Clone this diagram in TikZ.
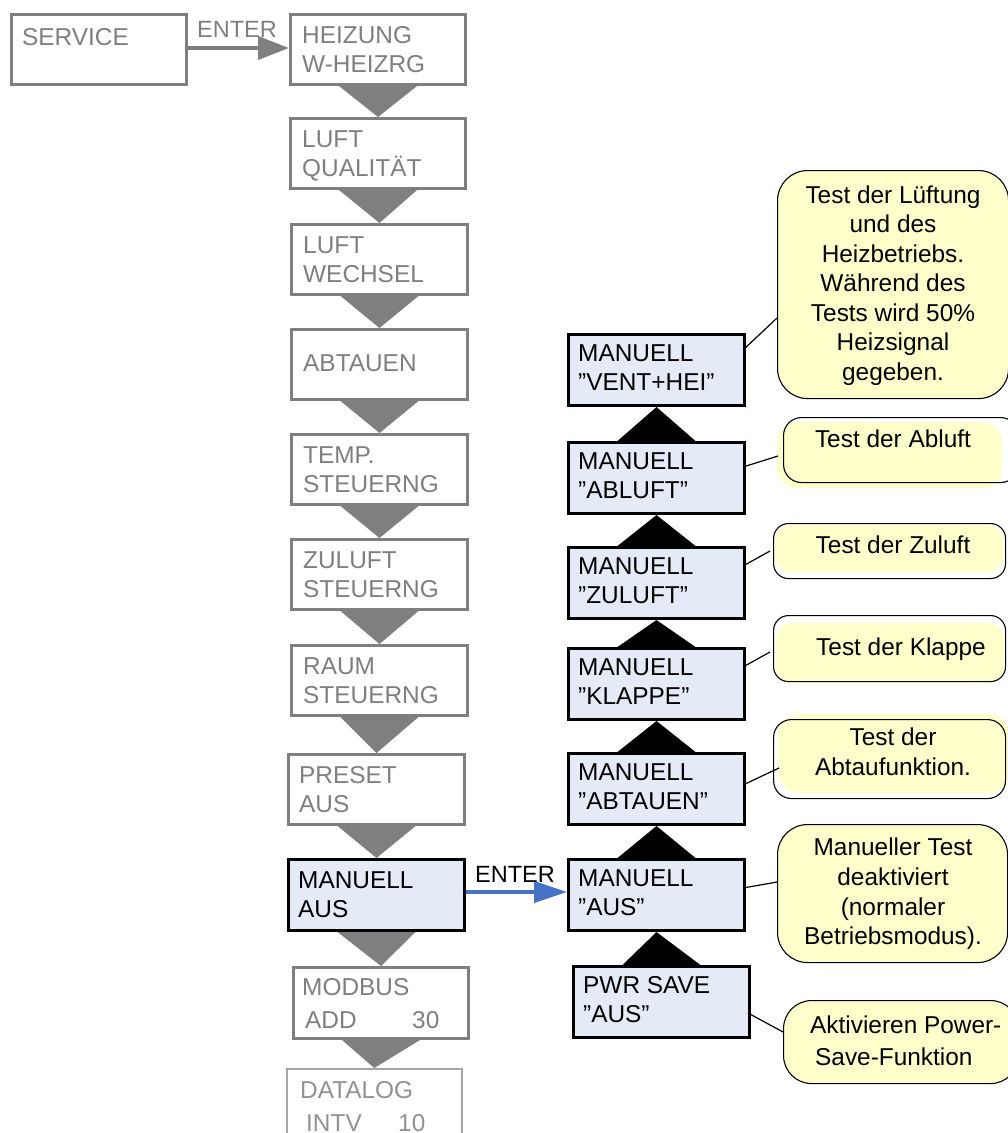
\documentclass[tikz,border=0pt]{standalone}
\usepackage{fontspec}
\setmainfont{Liberation Sans}
\usetikzlibrary{arrows.meta,calc}
\definecolor{grayc}{HTML}{7F7F7F}
\definecolor{lightgrayc}{HTML}{A6A6A6}
\definecolor{boxblue}{HTML}{E4EAF6}
\definecolor{noteyellow}{HTML}{FFFFCC}
\definecolor{arrowblue}{HTML}{4472C4}
\begin{document}
\begin{tikzpicture}[x=1pt,y=-1pt,
  basefont/.style={font=\fontsize{24.4}{29}\selectfont},
  gtxt/.style={basefont, anchor=base west, inner sep=0pt, text=grayc},
  ltxt/.style={basefont, anchor=base west, inner sep=0pt, text=grayc!85},
  btxt/.style={basefont, anchor=base west, inner sep=0pt, text=black},
  ctxt/.style={basefont, anchor=base, inner sep=0pt, text=black},
  etxt/.style={font=\fontsize{23.5}{28}\selectfont, anchor=base west, inner sep=0pt},
  graybox/.style={draw=grayc, line width=3pt, fill=white, anchor=north west, inner sep=0pt, minimum height=70pt},
  lightbox/.style={draw=lightgrayc, line width=1.5pt, fill=white, anchor=north west, inner sep=0pt, minimum height=70pt},
  bluebox/.style={draw=black, line width=3pt, fill=boxblue, anchor=north west, inner sep=0pt, minimum width=176pt, minimum height=71pt},
  note/.style={draw=black, line width=1.1pt, fill=noteyellow, rounded corners=#1, anchor=north west, inner sep=0pt},
  notefill/.style={fill=noteyellow, rounded corners=#1, anchor=north west, inner sep=0pt},
  noteline/.style={draw=black, line width=1.1pt, rounded corners=#1, anchor=north west, inner sep=0pt},
  link/.style={draw=black, line width=1.2pt},
  downtri/.style={fill=grayc},
  uptri/.style={fill=black}
]
\useasboundingbox (0,0) rectangle (1008,1133);
\fill[white] (0,0) rectangle (1008,1133);

% ---------- SERVICE and top arrow ----------
\node[graybox, minimum width=175pt] (sv) at (10,13) {};
\node[gtxt] (svt) at (22,45) {SERVICE};

% ---------- left column ----------
\node[graybox, minimum width=175pt] (hz) at (289,13) {};
\node[gtxt] (hza) at (302,43) {HEIZUNG};
\node[gtxt] (hzb) at (302,72) {W-HEIZRG};

\node[graybox, minimum width=175pt] (lq) at (289,117) {};
\node[gtxt] (lqa) at (302,147) {LUFT};
\node[gtxt] (lqb) at (302,176) {QUALITÄT};

\node[graybox, minimum width=176pt] (lw) at (290,223) {};
\node[gtxt] (lwa) at (303,253) {LUFT};
\node[gtxt] (lwb) at (303,282) {WECHSEL};

\node[graybox, minimum width=176pt] (ab) at (290,328) {};
\node[gtxt] (aba) at (303,371) {ABTAUEN};

\node[graybox, minimum width=176pt] (ts) at (290,433) {};
\node[gtxt] (tsa) at (303,463) {TEMP.};
\node[gtxt] (tsb) at (303,492) {STEUERNG};

\node[graybox, minimum width=176pt] (zs) at (290,538) {};
\node[gtxt] (zsa) at (303,568) {ZULUFT};
\node[gtxt] (zsb) at (303,597) {STEUERNG};

\node[graybox, minimum width=176pt] (rs) at (290,644) {};
\node[gtxt] (rsa) at (303,674) {RAUM};
\node[gtxt] (rsb) at (303,703) {STEUERNG};

\node[graybox, minimum width=176pt] (pa) at (287,753) {};
\node[gtxt] (paa) at (299,783) {PRESET};
\node[gtxt] (pab) at (299,812) {AUS};

\node[bluebox] (ma) at (287,858) {};
\node[btxt] (maa) at (298,888) {MANUELL};
\node[btxt] (mab) at (298,917) {AUS};

\node[graybox, minimum width=175pt, minimum height=71pt] (mb) at (292,966) {};
\node[gtxt] (mba) at (302,995) {MODBUS};
\node[gtxt] (mbb) at (305,1028) {ADD};
\node[gtxt] (mbc) at (412,1028) {30};

\node[lightbox, minimum width=175pt] (dl) at (286,1068) {};
\node[ltxt] (dla) at (300,1098) {DATALOG};
\node[ltxt] (dlb) at (306,1131) {INTV};
\node[ltxt] (dlc) at (398,1131) {10};

% down triangles
\foreach \a/\b in {hz/lq, lq/lw, lw/ab, ab/ts, ts/zs, zs/rs, rs/pa, pa/ma, ma/mb, mb/dl}
  \fill[downtri] ($(\a.south)+(-39,0)$) -- ($(\a.south)+(39,0)$) -- (\b.north) -- cycle;

% ---------- right column ----------
\node[bluebox] (vh) at (567,333) {};
\node[btxt] (vha) at (578,361) {MANUELL};
\node[btxt] (vhb) at (578,390) {”VENT+HEI”};

\node[bluebox] (al) at (567,441) {};
\node[btxt] (ala) at (578,469) {MANUELL};
\node[btxt] (alb) at (578,498) {”ABLUFT”};

\node[bluebox] (zl) at (567,546) {};
\node[btxt] (zla) at (578,574) {MANUELL};
\node[btxt] (zlb) at (578,603) {”ZULUFT”};

\node[bluebox] (kl) at (567,647) {};
\node[btxt] (kla) at (578,675) {MANUELL};
\node[btxt] (klb) at (578,704) {”KLAPPE”};

\node[bluebox] (at) at (567,752) {};
\node[btxt] (ata) at (578,780) {MANUELL};
\node[btxt] (atb) at (578,809) {”ABTAUEN”};

\node[bluebox] (au) at (567,858) {};
\node[btxt] (aua) at (578,886) {MANUELL};
\node[btxt] (aub) at (578,915) {”AUS”};

\node[bluebox] (ps) at (572,965) {};
\node[btxt] (psa) at (583,993) {PWR SAVE};
\node[btxt] (psb) at (583,1022) {”AUS”};

% up triangles
\foreach \a/\b in {al/vh, zl/al, kl/zl, at/kl, au/at, ps/au}
  \fill[uptri] ($(\a.north)+(-39,0)$) -- ($(\a.north)+(39,0)$) -- (\b.south) -- cycle;

% ---------- arrows ----------
\draw[grayc, line width=4pt, -{Triangle[length=31pt,width=23pt]}] (sv.east |- 0,48) -- (hz.west |- 0,48);
\node[etxt, text=grayc] (e1) at (197,37) {ENTER};
\draw[arrowblue, line width=4pt, -{Triangle[length=33pt,width=21pt]}] (ma.east |- 0,892) -- (au.west |- 0,892);
\node[etxt, text=black] (e2) at (475,882) {ENTER};

% ---------- callouts ----------
% 1
\node[note=30pt, minimum width=231pt, minimum height=228pt] (n1) at (777,170) {};
\node[ctxt] (n1a) at (893,203) {Test der Lüftung};
\node[ctxt] (n1b) at (893,232.5) {und des};
\node[ctxt] (n1c) at (893,262) {Heizbetriebs.};
\node[ctxt] (n1d) at (893,291.5) {Während des};
\node[ctxt] (n1e) at (893,321) {Tests wird 50\%};
\node[ctxt] (n1f) at (893,350.5) {Heizsignal};
\node[ctxt] (n1g) at (893,380) {gegeben.};
\coordinate (c1a) at (743,350); \coordinate (c1b) at (777,318);
\draw[link] (c1a) -- (c1b);

% 2 Abluft
\node[notefill=20pt, minimum width=225pt, minimum height=66pt] (n2f) at (777,422) {};
\node[noteline=18pt, minimum width=235pt, minimum height=65pt] (n2) at (783,417) {};
\node[ctxt] (n2a) at (893,447) {Test der Abluft};
\coordinate (c2a) at (743,467); \coordinate (c2b) at (778,456);
\draw[link] (c2a) -- (c2b);

% 3 Zuluft
\node[notefill=16pt, minimum width=228pt, minimum height=47pt] (n3f) at (775,525) {};
\node[noteline=15pt, minimum width=232pt, minimum height=55pt] (n3) at (773,523) {};
\node[ctxt] (n3a) at (893,553) {Test der Zuluft};
\coordinate (c3a) at (743,566); \coordinate (c3b) at (770,551);
\draw[link] (c3a) -- (c3b);

% 4 Klappe
\node[notefill=16pt, minimum width=228pt, minimum height=60pt] (n4f) at (776,623) {};
\node[noteline=15pt, minimum width=232pt, minimum height=66pt] (n4) at (773,615) {};
\node[ctxt] (n4a) at (901,655) {Test der Klappe};
\coordinate (c4a) at (743,667); \coordinate (c4b) at (770,652);
\draw[link] (c4a) -- (c4b);

% 5 Abtaufunktion
\node[notefill=22pt, minimum width=232pt, minimum height=79pt] (n5f) at (778,714) {};
\node[noteline=18pt, minimum width=232pt, minimum height=79pt] (n5) at (773,719) {};
\node[ctxt] (n5a) at (893,745) {Test der};
\node[ctxt] (n5b) at (893,775) {Abtaufunktion.};
\coordinate (c5a) at (743,785); \coordinate (c5b) at (779,768);
\draw[link] (c5a) -- (c5b);

% 6 Manueller Test
\node[note=30pt, minimum width=230pt, minimum height=138pt] (n6) at (777,824) {};
\node[ctxt] (n6a) at (893,855) {Manueller Test};
\node[ctxt] (n6b) at (893,885) {deaktiviert};
\node[ctxt] (n6c) at (893,915) {(normaler};
\node[ctxt] (n6d) at (893,944) {Betriebsmodus).};
\coordinate (c6a) at (743,888); \coordinate (c6b) at (777,882);
\draw[link] (c6a) -- (c6b);

% 7 Power-Save
\node[note=28pt, minimum width=235pt, minimum height=83pt] (n7) at (783,1000) {};
\node[btxt] (n7a) at (810,1033) {Aktivieren Power-};
\node[btxt] (n7b) at (815,1065) {Save-Funktion};
\coordinate (c7a) at (748,1013); \coordinate (c7b) at (783,1032);
\draw[link] (c7a) -- (c7b);
\end{tikzpicture}
\end{document}
